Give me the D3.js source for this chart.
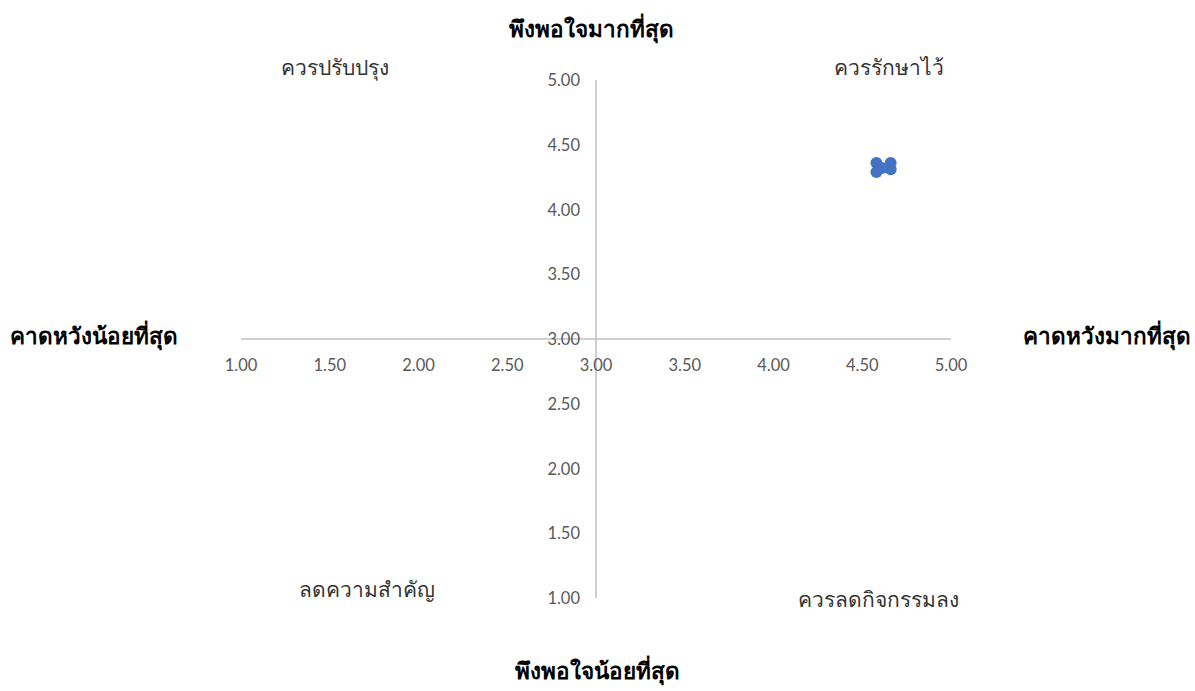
<!DOCTYPE html>
<html>
<head>
<meta charset="utf-8">
<script src="https://cdn.jsdelivr.net/npm/d3@7"></script>
<style>
  body { margin: 0; background: #fff; }
  svg text { font-family: "Lato", "Liberation Sans", sans-serif; }
</style>
</head>
<body>
<div id="chart"></div>
<script>
// expectation (x) vs satisfaction (y)
const expectVals = [4.58, 4.58, 4.66, 4.66, 4.61];
const satisfyVals = [4.36, 4.29, 4.36, 4.31, 4.32];
const tickVals = [1, 1.5, 2, 2.5, 3, 3.5, 4, 4.5, 5];

const quadrantLabels = [
  { text: "ควรปรับปรุง", x: 1.53, y: 5.04 },
  { text: "ควรรักษาไว้", x: 4.65, y: 5.04 },
  { text: "ลดความสำคัญ", x: 1.71, y: 1.01 },
  { text: "ควรลดกิจกรรมลง", x: 4.59, y: 0.93 }
];

const width = 1195, height = 691;

const svg = d3.select("#chart").append("svg")
  .attr("width", width)
  .attr("height", height);

const x = d3.scaleLinear().domain([1, 5]).range([241, 951]);
const y = d3.scaleLinear().domain([1, 5]).range([598, 80]);

const gridColor = "#bfbfbf";
const tickColor = "#595959";

// horizontal axis line through y = 3
svg.append("line")
  .attr("x1", x(1)).attr("x2", x(5))
  .attr("y1", y(3)).attr("y2", y(3))
  .attr("stroke", gridColor).attr("stroke-width", 1.5);

// vertical axis line through x = 3
svg.append("line")
  .attr("x1", x(3)).attr("x2", x(3))
  .attr("y1", y(5)).attr("y2", y(1))
  .attr("stroke", gridColor).attr("stroke-width", 1.5);

// x tick labels
svg.selectAll(".xt")
  .data(tickVals)
  .enter().append("text")
  .attr("class", "xt")
  .attr("x", d => x(d))
  .attr("y", y(3) + 32)
  .attr("text-anchor", "middle")
  .attr("fill", tickColor)
  .style("font-size", "16.5px")
  .text(d => d.toFixed(2));

// y tick labels
svg.selectAll(".yt")
  .data(tickVals)
  .enter().append("text")
  .attr("class", "yt")
  .attr("x", x(3) - 16)
  .attr("y", d => y(d) + 6)
  .attr("text-anchor", "end")
  .attr("fill", tickColor)
  .style("font-size", "16.5px")
  .text(d => d.toFixed(2));

// data points
const pts = expectVals.map((v, i) => ({ x: v, y: satisfyVals[i] }));
svg.selectAll("circle")
  .data(pts)
  .enter().append("circle")
  .attr("cx", d => x(d.x))
  .attr("cy", d => y(d.y))
  .attr("r", 6)
  .attr("fill", "#4472c4");

// quadrant labels
svg.selectAll(".ql")
  .data(quadrantLabels)
  .enter().append("text")
  .attr("class", "ql")
  .attr("x", d => x(d.x))
  .attr("y", d => y(d.y))
  .attr("text-anchor", "middle")
  .attr("fill", "#333")
  .style("font-size", "21px")
  .text(d => d.text);

// axis titles
const titles = [
  { text: "พึงพอใจมากที่สุด", x: 591, y: 37, anchor: "middle" },
  { text: "พึงพอใจน้อยที่สุด", x: 597, y: 679, anchor: "middle" },
  { text: "คาดหวังน้อยที่สุด", x: 10, y: 344, anchor: "start" },
  { text: "คาดหวังมากที่สุด", x: 1191, y: 344, anchor: "end" }
];
svg.selectAll(".tt")
  .data(titles)
  .enter().append("text")
  .attr("class", "tt")
  .attr("x", d => d.x)
  .attr("y", d => d.y)
  .attr("text-anchor", d => d.anchor)
  .attr("fill", "#000")
  .style("font-size", "22.5px")
  .style("font-weight", "bold")
  .text(d => d.text);
</script>
</body>
</html>
